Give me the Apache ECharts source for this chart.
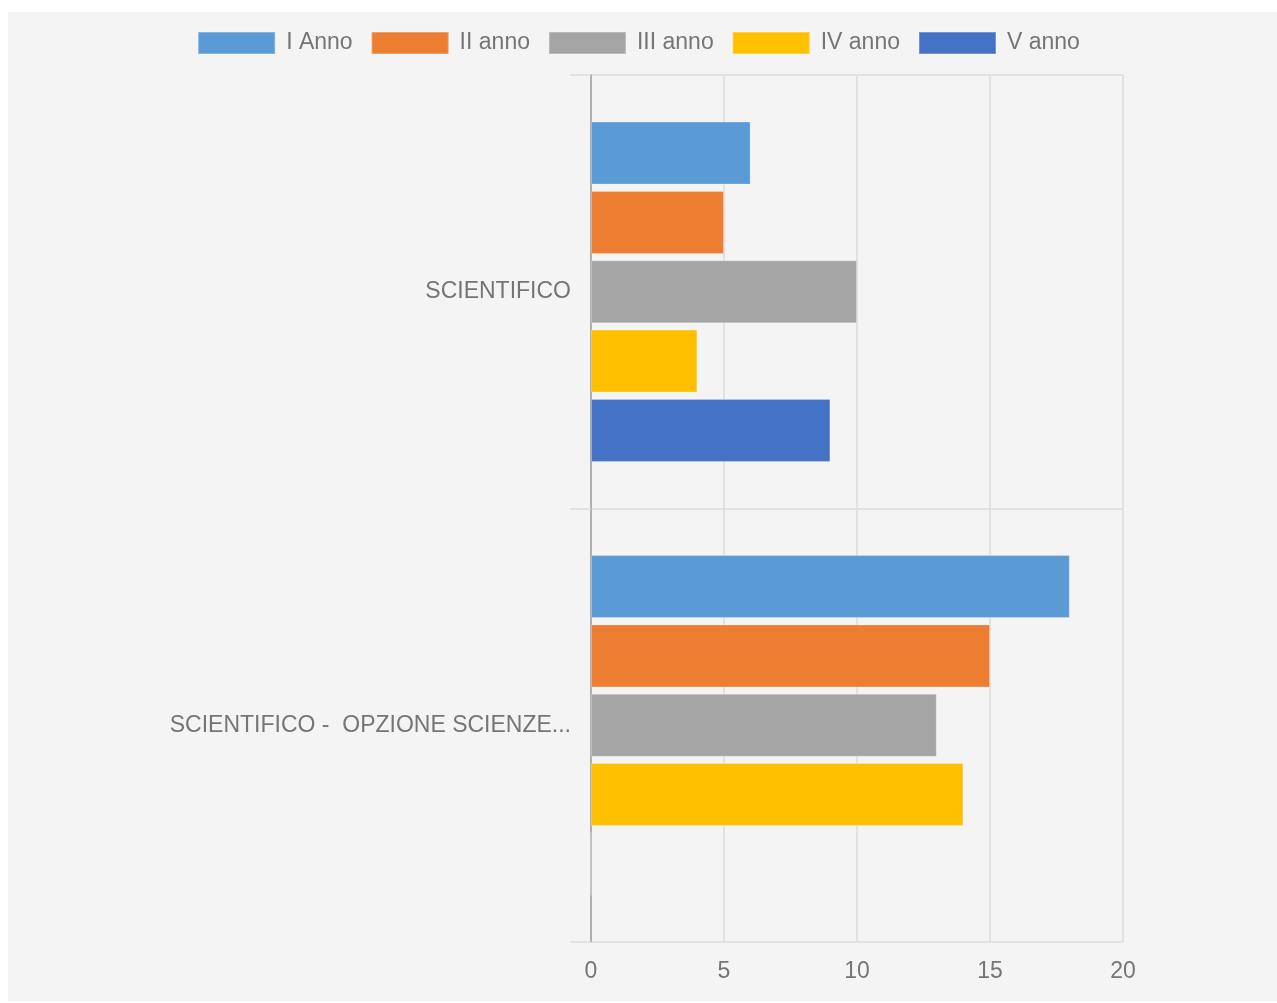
<!DOCTYPE html>
<html>
<head>
<meta charset="utf-8">
<script src="https://cdn.jsdelivr.net/npm/echarts@6/dist/echarts.min.js"></script>
<style>
html,body{margin:0;padding:0;background:#ffffff;}
#bg{position:absolute;left:8px;top:12px;width:1269px;height:989px;background:#f4f4f4;}
#chart{position:absolute;left:0;top:0;width:1277px;height:1003px;}
</style>
</head>
<body>
<div id="bg"></div>
<div id="chart"></div>
<script>
const categories = ['SCIENTIFICO', 'SCIENTIFICO -  OPZIONE SCIENZE...'];
const seriesNames = ['I Anno', 'II anno', 'III anno', 'IV anno', 'V anno'];
const annoI = [6, 18];
const annoII = [5, 15];
const annoIII = [10, 13];
const annoIV = [4, 14];
const annoV = [9, 0];
const xTicks = [0, 5, 10, 15, 20];

const colors = ['#5b9bd5', '#ed7d31', '#a5a5a5', '#ffc000', '#4472c4'];
const values = [annoI, annoII, annoIII, annoIV, annoV];

const chart = echarts.init(document.getElementById('chart'), null, {renderer: 'canvas'});
const font = '"Liberation Sans", Arial, sans-serif';
chart.setOption({
  backgroundColor: 'transparent',
  animation: false,
  color: colors,
  textStyle: {fontFamily: font},
  legend: {
    top: 26,
    left: 'center',
    itemWidth: 77,
    itemHeight: 22,
    itemGap: 18,
    icon: 'rect',
    textStyle: {fontSize: 23, color: '#757575', fontFamily: font, padding: [0, 0, 0, 6]},
    data: seriesNames
  },
  grid: {left: 591, right: 154, top: 75, bottom: 61, containLabel: false},
  xAxis: {
    type: 'value',
    min: xTicks[0],
    max: xTicks[xTicks.length - 1],
    interval: 5,
    axisLine: {show: false},
    axisTick: {show: false},
    axisLabel: {fontSize: 23, color: '#757575', margin: 18, fontFamily: font},
    splitLine: {show: true, lineStyle: {color: '#dcdcdc', width: 1.5}}
  },
  yAxis: {
    type: 'category',
    inverse: true,
    data: categories,
    axisLine: {show: true, lineStyle: {color: '#9e9e9e', width: 1.5}},
    axisTick: {show: true, length: 21, lineStyle: {color: '#dcdcdc', width: 1.5}},
    axisLabel: {fontSize: 23, color: '#757575', margin: 20, fontFamily: font},
    splitLine: {show: true, lineStyle: {color: '#dcdcdc', width: 1.5}}
  },
  series: seriesNames.map((n, i) => ({
    name: n,
    type: 'bar',
    data: values[i],
    barGap: '10%',
    barCategoryGap: '21.5%',
    itemStyle: {color: colors[i], borderColor: 'rgba(255,255,255,0.25)', borderWidth: 1}
  }))
});
</script>
</body>
</html>
